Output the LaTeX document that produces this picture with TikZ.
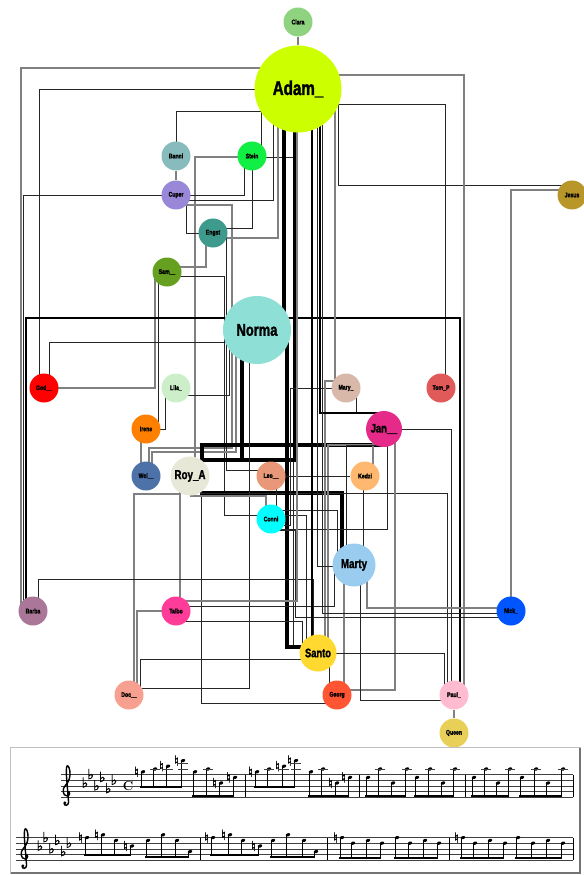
\documentclass[tikz,border=0pt]{standalone}
\usepackage{fontspec}
\newfontfamily\nodefont[FakeStretch=0.76, BoldFeatures={FakeBold=1.6}]{Liberation Sans}
\newfontfamily\musicfont[FakeBold=1.2]{DejaVu Sans}
\usetikzlibrary{calc}
\usetikzlibrary{shapes.geometric}
\pgfdeclarelayer{edges}
\pgfsetlayers{edges,main}

\definecolor{cClara}{HTML}{8FD27F}
\definecolor{cAdam}{HTML}{CCFF00}
\definecolor{cBanni}{HTML}{88BBBB}
\definecolor{cStein}{HTML}{11EE44}
\definecolor{cCuper}{HTML}{9988D8}
\definecolor{cEngst}{HTML}{3E9A8C}
\definecolor{cSam}{HTML}{66A020}
\definecolor{cNorma}{HTML}{8EDFD6}
\definecolor{cJesus}{HTML}{B8962A}
\definecolor{cGod}{HTML}{FF0000}
\definecolor{cLila}{HTML}{CCEEC8}
\definecolor{cMary}{HTML}{D8B8A8}
\definecolor{cTom}{HTML}{E05A5A}
\definecolor{cIrene}{HTML}{FF8000}
\definecolor{cJan}{HTML}{E62A8A}
\definecolor{cWei}{HTML}{4C72A8}
\definecolor{cRoy}{HTML}{E8E8D8}
\definecolor{cLeo}{HTML}{E89878}
\definecolor{cKedzi}{HTML}{FFB870}
\definecolor{cConni}{HTML}{00FFFF}
\definecolor{cMarty}{HTML}{99CCEE}
\definecolor{cBarba}{HTML}{AA7799}
\definecolor{cTalbo}{HTML}{FF3D98}
\definecolor{cNick}{HTML}{0055FF}
\definecolor{cSanto}{HTML}{FFD930}
\definecolor{cDoc}{HTML}{F8A090}
\definecolor{cGeorg}{HTML}{FF5533}
\definecolor{cPaul}{HTML}{FFBBD0}
\definecolor{cQueen}{HTML}{E8D058}

\begin{document}
\begin{tikzpicture}[
  x=0.03cm, y=-0.03cm,
  pers/.style={circle, inner sep=0pt, minimum size=0.87cm, font=\nodefont\bfseries\fontsize{5.8}{6}\selectfont},
  bigpers/.style={circle, inner sep=0pt, minimum size=#1},
  ln/.style={draw=black!85, line width=0.75pt},
  lg/.style={draw=black!50, line width=0.9pt},
  lm/.style={draw=black, line width=1.5pt},
  lt/.style={draw=black, line width=2.6pt},
  stl/.style={draw=black!75, line width=0.4pt},
  barl/.style={draw=black, line width=0.8pt},
  stem/.style={draw=black, line width=0.45pt},
  nhead/.style={ellipse, fill=black, inner sep=0pt, minimum width=0.14cm, minimum height=0.095cm, rotate=20},
  natural/.style={inner sep=0pt, font=\musicfont\fontsize{12}{12}\selectfont},
  flat/.style={inner sep=0pt, font=\musicfont\fontsize{12}{12}\selectfont},
  clef/.style={draw=black, line width=1.2pt},
]
\useasboundingbox (0,0) rectangle (583,875);

% people
\node[pers, fill=cClara] (clara) at (298,22) {Clara};
\node[bigpers=2.61cm, fill=cAdam, font=\nodefont\bfseries\fontsize{17}{17}\selectfont] (adam) at (298,89) {Adam\_};
\node[pers, fill=cBanni] (banni) at (176,156) {Banni};
\node[pers, fill=cStein] (stein) at (252,156) {Stein};
\node[pers, fill=cCuper] (cuper) at (176,195) {Cuper};
\node[pers, fill=cEngst] (engst) at (213,233) {Engst};
\node[pers, fill=cSam] (sam) at (167,272) {Sam\_\_};
\node[bigpers=2.04cm, fill=cNorma, font=\nodefont\bfseries\fontsize{14.5}{15}\selectfont] (norma) at (257,330) {Norma};
\node[pers, fill=cJesus] (jesus) at (572,195) {Jesus};
\node[pers, fill=cGod] (god) at (44,388) {God\_\_};
\node[pers, fill=cLila] (lila) at (176,388) {Lila\_};
\node[pers, fill=cMary] (mary) at (346,388) {Mary\_};
\node[pers, fill=cTom] (tomp) at (441,388) {Tom\_P};
\node[pers, fill=cIrene] (irene) at (146,429) {Irene};
\node[bigpers=1.08cm, fill=cJan, font=\nodefont\bfseries\fontsize{10.5}{11}\selectfont] (jan) at (384,429) {Jan\_\_};
\node[pers, fill=cWei] (wei) at (146,476) {Wei\_\_};
\node[bigpers=1.17cm, fill=cRoy, font=\nodefont\bfseries\fontsize{11}{11}\selectfont] (roy) at (190,476) {Roy\_A};
\node[pers, fill=cLeo] (leo) at (271,476) {Leo\_\_};
\node[pers, fill=cKedzi] (kedzi) at (365,476) {Kedzi};
\node[pers, fill=cConni] (conni) at (271,519) {Conni};
\node[bigpers=1.29cm, fill=cMarty, font=\nodefont\bfseries\fontsize{11}{11}\selectfont] (marty) at (354,565) {Marty};
\node[pers, fill=cBarba] (barba) at (33,611) {Barba};
\node[pers, fill=cTalbo] (talbo) at (176,611) {Talbo};
\node[pers, fill=cNick] (nick) at (511,611) {Nick\_};
\node[bigpers=1.11cm, fill=cSanto, font=\nodefont\bfseries\fontsize{10.5}{11}\selectfont] (santo) at (318,653) {Santo};
\node[pers, fill=cDoc] (doc) at (129,695) {Doc\_\_};
\node[pers, fill=cGeorg] (georg) at (337,695) {Georg};
\node[pers, fill=cPaul] (paul) at (454,695) {Paul\_};
\node[pers, fill=cQueen] (queen) at (454,733) {Queen};

% ties
\begin{pgfonlayer}{edges}
  \draw[lg] (clara) -- (adam);
  \draw[lg] ($(adam)+(0,-21)$) -| ($(barba)+(-12,0)$);
  \draw[ln] (adam.center) -| ($(god)+(-5,0)$);
  \draw[ln] (banni.center) |- ($(stein)+(9,-45)$) -- ($(stein)+(9,0)$);
  \draw[lg] (banni) -- (cuper);
  \draw[lg] ($(stein)+(0,1)$) -| ($(roy)+(5,0)$);
  \draw[ln] ($(stein)+(0,1)$) -| ($(santo)+(-25,-8)$) -- ($(santo)+(0,-8)$);
  \draw[ln] (cuper.center) -| ($(barba)+(-10,0)$);
  \draw[ln] (cuper.center) -| ($(stein)+(-8,0)$);
  \draw[ln] ($(cuper)+(0,5)$) -| ($(adam)+(-25,0)$);
  \draw[ln] ($(cuper)+(10,0)$) |- (engst.center);
  \draw[lg] ($(cuper)+(0,10)$) -| ($(wei)+(86,-28)$) -| ($(wei)+(3,0)$);
  \draw[ln] (stein.center) |- ($(engst)+(0,-5)$);
  \draw[lg] ($(engst)+(0,5)$) -| ($(adam)+(-20,0)$);
  \draw[lg] ($(engst)+(-7,0)$) |- ($(sam)+(0,-5)$);
  \draw[ln] ($(engst)+(13,0)$) |- ($(leo)+(0,-6)$);
  \draw[ln] ($(sam)+(0,4)$) -| ($(conni)+(-47,-4)$) -- ($(conni)+(0,-4)$);
  \draw[lg] ($(sam)+(-12,0)$) |- (god.center);
  \draw[ln] ($(sam)+(-9,0)$) -- ($(irene)+(12,0)$);
  \draw[ln] ($(god)+(5,0)$) |- ($(norma)+(0,12)$);
  \draw[ln] ($(lila)+(0,7)$) -| ($(norma)+(-28,0)$);
  \draw[ln] (irene.center) -| ($(lila)+(-11,0)$);
  \draw[lg] ($(irene)+(-5,0)$) -- ($(wei)+(-5,0)$);
  \draw[lg] ($(wei)+(6,0)$) |- ($(norma)+(-21,122)$) -- ($(norma)+(-21,0)$);
  \draw[lt] ($(roy)+(10,-16)$) -| ($(norma)+(-15,0)$);
  \draw[lt] ($(roy)+(10,-16)$) -| ($(adam)+(-3,0)$);
  \draw[lt] ($(roy)+(12,-8)$) |- ($(jan)+(0,16)$);
  \draw[lt] ($(roy)+(10,17)$) -| ($(marty)+(-12,0)$);
  \draw[lg] ($(roy)+(-10,0)$) -- ($(talbo)+(4,0)$);
  \draw[lg] ($(roy)+(-10,18)$) -| ($(doc)+(5,0)$);
  \draw[ln] ($(roy)+(10,17)$) -| ($(paul)+(-7,0)$);
  \draw[ln] ($(roy)+(11,0)$) |- ($(georg)+(0,8)$);
  \draw[ln] ($(norma)+(-8,0)$) |- ($(doc)+(0,-7)$);
  \draw[lt] ($(adam)+(-14,0)$) -- ($(norma)+(27,0)$);
  \draw[lt] ($(norma)+(0,8)$) -| ($(santo)+(-31,-6)$) -- ($(santo)+(0,-6)$);
  \draw[ln] ($(adam)+(40,0)$) |- ($(jesus)+(0,-10)$);
  \draw[ln] ($(adam)+(0,15)$) -| ($(tomp)+(4,0)$);
  \draw[lg] ($(adam)+(0,-14)$) -| ($(paul)+(10,0)$);
  \draw[lg] ($(jesus)+(0,-5)$) -| (nick.center);
  \draw[lm] ($(barba)+(-7,0)$) |- ($(paul)+(6,-377)$) -- ($(paul)+(6,0)$);
  \draw[ln] ($(barba)+(5,0)$) |- ($(santo)+(-5,-74)$) -- ($(santo)+(-5,0)$);
  \draw[lg] ($(adam)+(37,0)$) -- ($(mary)+(-11,0)$);
  \draw[ln] (mary.center) -| ($(conni)+(19,6)$) -- ($(conni)+(0,6)$);
  \draw[lg] ($(mary)+(0,-7)$) -| ($(santo)+(7,0)$);
  \draw[ln] ($(mary)+(10,0)$) |- ($(jan)+(0,-16)$);
  \draw[lm] ($(adam)+(22,0)$) |- ($(jan)+(0,-16)$);
  \draw[ln] (jan.center) -| ($(paul)+(-3,0)$);
  \draw[ln] ($(jan)+(3,0)$) |- ($(conni)+(0,10)$);
  \draw[lg] ($(jan)+(-11,0)$) -- ($(kedzi)+(8,0)$);
  \draw[lg] ($(jan)+(11,0)$) |- ($(georg)+(0,-5)$);
  \draw[lg] ($(jan)+(0,16)$) -| ($(santo)+(10,0)$);
  \draw[ln] ($(jan)+(0,16)$) -| ($(marty)+(-8,0)$);
  \draw[ln] (leo) -- (kedzi);
  \draw[ln] ($(leo)+(5,0)$) -- ($(conni)+(5,0)$);
  \draw[ln] ($(kedzi)+(-2,0)$) -- ($(marty)+(9,0)$);
  \draw[lg] ($(conni)+(-5,0)$) |- ($(roy)+(0,20)$);
  \draw[ln] ($(conni)+(0,-9)$) -| ($(marty)+(-17,0)$);
  \draw[ln] ($(conni)+(0,-4)$) -| ($(santo)+(-12,0)$);
  \draw[ln] ($(conni)+(0,11)$) -| ($(nick)+(-216,6)$) -- ($(nick)+(0,6)$);
  \draw[lg] ($(marty)+(13,0)$) |- ($(nick)+(0,-3)$);
  \draw[ln] ($(marty)+(6,0)$) |- ($(paul)+(0,5)$);
  \draw[lg] ($(marty)+(-10,0)$) -- ($(georg)+(7,0)$);
  \draw[ln] (santo.center) -| ($(paul)+(-10,0)$);
  \draw[ln] ($(santo)+(11,0)$) -- ($(georg)+(-8,0)$);
  \draw[lg] (paul) -- (queen);
  \draw[lg] (talbo.center) -| ($(doc)+(8,0)$);
  \draw[ln] ($(doc)+(11,0)$) |- ($(santo)+(0,6)$);
  \draw[ln] ($(talbo)+(0,-5)$) -| ($(marty)+(-20,0)$);
  \draw[lg] ($(talbo)+(0,-10)$) -| ($(adam)+(-1,0)$);
  \draw[ln] ($(talbo)+(0,10)$) -| ($(santo)+(-16,0)$);
  \draw[lm] ($(adam)+(14,0)$) -- ($(santo)+(-6,0)$);
  \draw[ln] ($(adam)+(19,0)$) |- ($(marty)+(0,1)$);
  \draw[ln] ($(adam)+(24,0)$) |- ($(nick)+(0,2)$);
\end{pgfonlayer}

% score
\draw[draw=black!25, line width=0.8pt] (10,747) rectangle (580,873);
\draw[draw=black!55, line width=1.2pt] (580,748) -- (580,873) -- (11,873);
\foreach \k in {0,...,4} {
  \draw[stl] (61,{797-5.6*\k}) -- (573,{797-5.6*\k});
  \draw[stl] (16,{860-5.6*\k}) -- (573,{860-5.6*\k});
}
\foreach \bx in {245,359,465,573} \draw[barl] (\bx,774.6) -- (\bx,797);
\foreach \bx in {200,327,449,573} \draw[barl] (\bx,837.6) -- (\bx,860);

% clefs
\foreach \cx/\cy in {67/791.4, 25/854.4} {
  \begin{scope}[shift={(\cx,\cy)}, x=0.168cm, y=0.168cm]
    \draw[clef] (0.1,0) .. controls (0.6,0.05) and (0.6,-0.8) .. (0,-0.8)
      .. controls (-0.8,-0.8) and (-0.9,0.5) .. (-0.3,1.05)
      .. controls (0.35,1.65) and (0.7,2.8) .. (0.5,3.7)
      .. controls (0.4,4.4) and (0.05,4.9) .. (-0.08,4.3)
      .. controls (-0.2,3.6) and (-0.05,2.2) .. (0.05,0.9)
      -- (0.28,-1.9)
      .. controls (0.32,-2.6) and (-0.6,-2.7) .. (-0.5,-2.05);
    \fill (-0.38,-2.05) circle (1.3pt);
  \end{scope}
}

% key signature and time
\foreach \fk/\fp in {0/4,1/7,2/3,3/6,4/2,5/5} {
  \node[flat] at ({85+5.8*\fk},{797-2.8*\fp-3.3}) {♭};
  \node[flat] at ({40+5.8*\fk},{860-2.8*\fp-3.3}) {♭};
}
\node[font=\bfseries\fontsize{11}{11}\selectfont, inner sep=0pt] (ctime) at (128,786) {C};

% upper staff notes: x/pos/natural/ledgers/beam
\foreach \hx/\hp/\hn/\hl/\hb in {
  143/9/1/0/788, 155/10/0/1/788, 168/11/1/1/788, 183/13/1/2/788,
  195/9/0/0/797, 208/10/0/1/797, 221/5/1/0/797, 235/7/1/0/797,
  257/9/1/0/788, 269/10/0/1/788, 284/11/1/1/788, 296/13/1/2/788,
  311/9/0/0/797, 323/10/0/1/797, 337/5/1/0/797, 350/7/1/0/797,
  368/7/0/0/797, 380/10/0/1/797, 393/5/0/0/797, 407/10/0/1/797,
  417/7/0/0/797, 430/10/0/1/797, 443/5/0/0/797, 455/10/0/1/797,
  474/7/0/0/797, 486/10/0/1/797, 498/5/0/0/797, 510/10/0/1/797,
  522/7/0/0/797, 536/10/0/1/797, 548/5/0/0/797, 563/10/0/1/797} {
  \node[nhead] at (\hx,{797-2.8*\hp}) {};
  \draw[stem] (\hx-2.1,{797-2.8*\hp}) -- (\hx-2.1,\hb);
  \ifnum\hn=1 \node[natural] at (\hx-6.5,{797-2.8*\hp}) {♮}; \fi
  \ifnum\hl>0 \draw[stl] (\hx-5,769) -- (\hx+5,769); \fi
  \ifnum\hl>1 \draw[stl] (\hx-5,763.4) -- (\hx+5,763.4); \fi
}
\foreach \xa/\xb/\by in {143/183/788, 195/235/797, 257/296/788, 311/350/797,
  368/407/797, 417/455/797, 474/510/797, 522/563/797}
  \fill (\xa-2.6,\by) rectangle (\xb-1.6,\by-2);

% lower staff notes: x/pos/natural/beam
\foreach \hx/\hp/\hn/\hb in {
  87/8/1/856, 103/9/1/856, 116/7/0/856, 132/5/1/856,
  148/7/0/858, 163/9/0/858, 177/7/0/858, 190/3/0/858,
  213/8/1/856, 230/9/1/856, 243/7/0/856, 260/5/1/856,
  273/7/0/858, 288/9/0/858, 304/7/0/858, 316/3/0/858,
  342/8/1/859, 353/6/0/859, 368/7/0/859, 382/6/0/859,
  397/8/0/859, 410/6/0/859, 425/7/0/859, 439/6/0/859,
  463/8/1/859, 475/6/0/859, 490/7/0/859, 505/6/0/859,
  518/8/0/859, 533/6/0/859, 548/7/0/859, 563/6/0/859} {
  \node[nhead] at (\hx,{860-2.8*\hp}) {};
  \draw[stem] (\hx-2.1,{860-2.8*\hp}) -- (\hx-2.1,\hb);
  \ifnum\hn=1 \node[natural] at (\hx-6.5,{860-2.8*\hp}) {♮}; \fi
}
\foreach \xa/\xb/\by in {87/132/856, 148/190/858, 213/260/856, 273/316/858,
  342/382/859, 397/439/859, 463/505/859, 518/563/859}
  \fill (\xa-2.6,\by) rectangle (\xb-1.6,\by-2);
\end{tikzpicture}
\end{document}
